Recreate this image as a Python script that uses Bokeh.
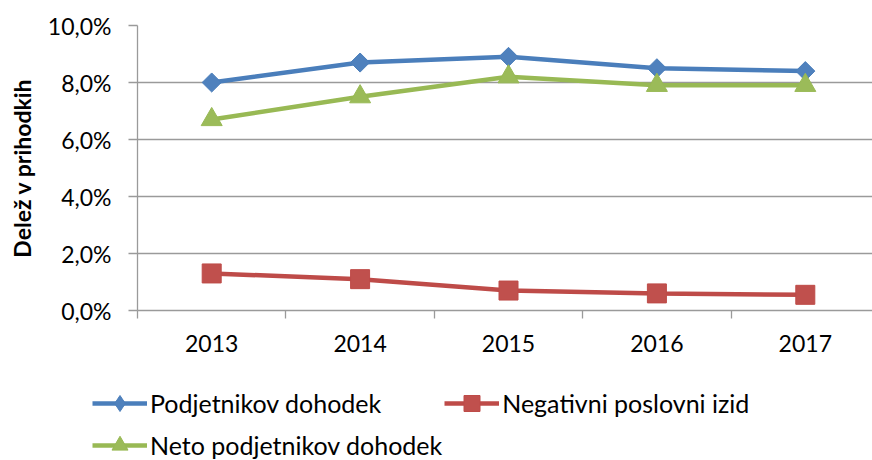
import math
from bokeh.plotting import figure
from bokeh.models import Range1d, FixedTicker, Legend, LegendItem
from bokeh.embed import file_html
from bokeh.resources import INLINE

# ---- data ----
years = [2013, 2014, 2015, 2016, 2017]
podjetnikov_dohodek = [8.0, 8.7, 8.9, 8.5, 8.4]
negativni_izid = [1.3, 1.1, 0.7, 0.6, 0.55]
neto_dohodek = [6.7, 7.5, 8.2, 7.9, 7.9]
series_names = ["Podjetnikov dohodek", "Negativni poslovni izid", "Neto podjetnikov dohodek"]
y_ticks = [0, 2, 4, 6, 8, 10]
y_tick_labels = ["0,0%", "2,0%", "4,0%", "6,0%", "8,0%", "10,0%"]
y_title = "Delež v prihodkih"

FONT = "Lato"
GRID = "#9a9a9a"
W = 872

p = figure(width=W, height=368,
           output_backend="svg", toolbar_location=None,
           x_range=Range1d(years[0] - 0.5, years[0] - 0.5 + 735 / 148.4),
           y_range=Range1d(y_ticks[0], y_ticks[-1]),
           min_border_left=137, min_border_right=0, min_border_top=25,
           min_border_bottom=58)
p.outline_line_color = None
p.background_fill_color = "white"
p.border_fill_color = "white"

# grid
p.xgrid.grid_line_color = None
p.ygrid.grid_line_color = GRID
p.ygrid.grid_line_width = 1.3

# y axis
p.yaxis.ticker = FixedTicker(ticks=y_ticks, minor_ticks=[])
p.yaxis.major_label_overrides = {t: l for t, l in zip(y_ticks, y_tick_labels)}
p.yaxis.axis_line_color = GRID
p.yaxis.axis_line_width = 1.3
p.yaxis.major_tick_line_color = GRID
p.yaxis.major_tick_line_width = 1.3
p.yaxis.major_tick_in = 0
p.yaxis.major_tick_out = 9
p.yaxis.minor_tick_line_color = None
p.yaxis.major_label_standoff = 17
p.yaxis.major_label_text_font = FONT
p.yaxis.major_label_text_font_size = "23px"
p.yaxis.major_label_text_color = "black"
p.yaxis.axis_label = y_title
p.yaxis.axis_label_text_font = FONT
p.yaxis.axis_label_text_font_style = "bold"
p.yaxis.axis_label_text_font_size = "23px"
p.yaxis.axis_label_text_color = "black"
p.yaxis.axis_label_standoff = 9

# x axis (labels at category centers, tick marks between categories)
p.xaxis.ticker = FixedTicker(ticks=years, minor_ticks=[y - 0.5 for y in years])
p.xaxis.axis_line_color = GRID
p.xaxis.axis_line_width = 1.3
p.xaxis.major_tick_line_color = None
p.xaxis.major_tick_in = 0
p.xaxis.major_tick_out = 8
p.xaxis.minor_tick_line_color = GRID
p.xaxis.minor_tick_line_width = 1.3
p.xaxis.minor_tick_in = 0
p.xaxis.minor_tick_out = 8
p.xaxis.major_label_standoff = 16
p.xaxis.major_label_text_font = FONT
p.xaxis.major_label_text_font_size = "23px"
p.xaxis.major_label_text_color = "black"

styles = [
    (podjetnikov_dohodek, "#4A7EBB", "#4F81BD", "square", math.pi / 4, 13.5, "diamond"),
    (negativni_izid, "#BE4B48", "#C0504D", "square", 0, 19, "square"),
    (neto_dohodek, "#98B954", "#9BBB59", "triangle", 0, 21, "triangle"),
]

# legend panel: a second, axis-less figure whose legend uses the same series
lg = figure(width=W, height=92, output_backend="svg", toolbar_location=None,
            x_range=Range1d(0, 1), y_range=Range1d(0, 1),
            x_axis_type=None, y_axis_type=None, min_border=0)
lg.outline_line_color = None
lg.xgrid.visible = False
lg.ygrid.visible = False

items = []
for name, (vals, lc, fc, marker, ang, size, lmarker) in zip(series_names, styles):
    p.line(years, vals, line_color=lc, line_width=4.5)
    p.scatter(years, vals, marker=marker, angle=ang, size=size,
              fill_color=fc, line_color=lc, line_width=1)
    # same series in the legend figure (outside its visible range)
    lr = lg.line(years, vals, line_color=lc, line_width=4.5)
    sr = lg.scatter(years, vals, marker=lmarker, size=size,
                    fill_color=fc, line_color=lc, line_width=1)
    items.append(LegendItem(label=name, renderers=[lr, sr]))

legend = Legend(items=items, orientation="horizontal", ncols=2,
                location=(92, -5),
                glyph_width=55, glyph_height=40, label_height=26,
                label_standoff=3, spacing=2, padding=0, margin=0,
                border_line_color=None, background_fill_alpha=0,
                label_text_font=FONT, label_text_font_size="25px",
                label_text_color="black")
lg.add_layout(legend, "center")

open("out.html", "w").write(file_html([p, lg], INLINE))
